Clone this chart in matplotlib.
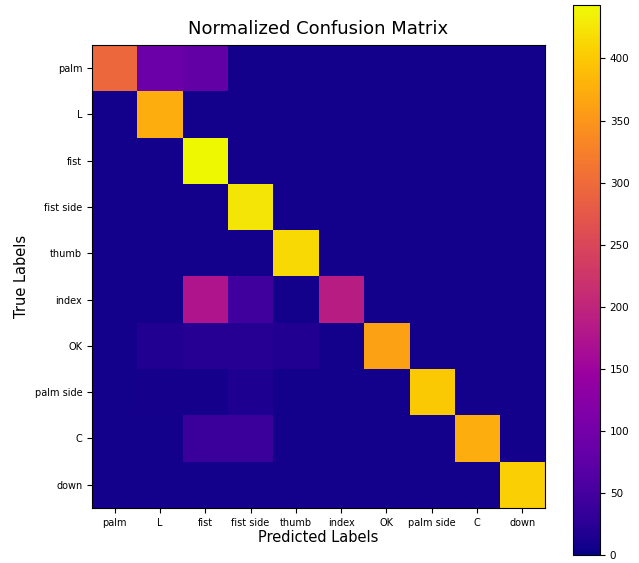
import numpy as np
import matplotlib
matplotlib.use('Agg')
import matplotlib.pyplot as plt
from matplotlib.colors import ListedColormap, rgb_to_hsv, hsv_to_rgb

labels = ['palm', 'L', 'fist', 'fist side', 'thumb', 'index', 'OK', 'palm side', 'C', 'down']

# rows = true labels, columns = predicted labels
row_palm      = [295, 90, 80, 8, 8, 8, 8, 8, 8, 8]
row_L         = [8, 375, 8, 8, 8, 8, 8, 8, 8, 8]
row_fist      = [8, 8, 443, 8, 8, 8, 8, 8, 8, 8]
row_fist_side = [8, 8, 8, 425, 8, 8, 8, 8, 8, 8]
row_thumb     = [8, 8, 8, 8, 415, 8, 8, 8, 8, 8]
row_index     = [8, 8, 175, 45, 8, 188, 8, 8, 8, 8]
row_OK        = [8, 18, 22, 22, 18, 8, 360, 8, 8, 8]
row_palm_side = [8, 10, 10, 15, 8, 8, 8, 400, 8, 8]
row_C         = [8, 8, 40, 40, 8, 8, 8, 8, 375, 8]
row_down      = [8, 8, 8, 8, 8, 8, 8, 8, 8, 405]

cm = np.array([row_palm, row_L, row_fist, row_fist_side, row_thumb,
               row_index, row_OK, row_palm_side, row_C, row_down])

# plasma, a little more saturated like the reference screenshot
base = plt.get_cmap('plasma')(np.linspace(0, 1, 256))[:, :3]
hsv = rgb_to_hsv(base)
hsv[:, 1] = np.clip(hsv[:, 1] * 1.15, 0, 1)
cmap = ListedColormap(hsv_to_rgb(hsv))

fig = plt.figure(figsize=(6.39, 5.63), dpi=100)
ax = fig.add_axes([0.144, 0.098, 0.709, 0.822])
cax = fig.add_axes([0.897, 0.014, 0.042, 0.977])

im = ax.imshow(cm, cmap=cmap, vmin=0, vmax=443, aspect='auto')
cb = fig.colorbar(im, cax=cax)
cb.set_ticks([0, 50, 100, 150, 200, 250, 300, 350, 400])
cb.ax.tick_params(labelsize=7.5)

ax.set_xticks(np.arange(len(labels)))
ax.set_yticks(np.arange(len(labels)))
ax.set_xticklabels(labels, fontsize=7)
ax.set_yticklabels(labels, fontsize=7)
ax.set_title('Normalized Confusion Matrix', fontsize=13, pad=8)
ax.set_xlabel('Predicted Labels', fontsize=10.5, labelpad=2)
ax.set_ylabel('True Labels', fontsize=10.5)

fig.savefig('out.png', dpi=100)
